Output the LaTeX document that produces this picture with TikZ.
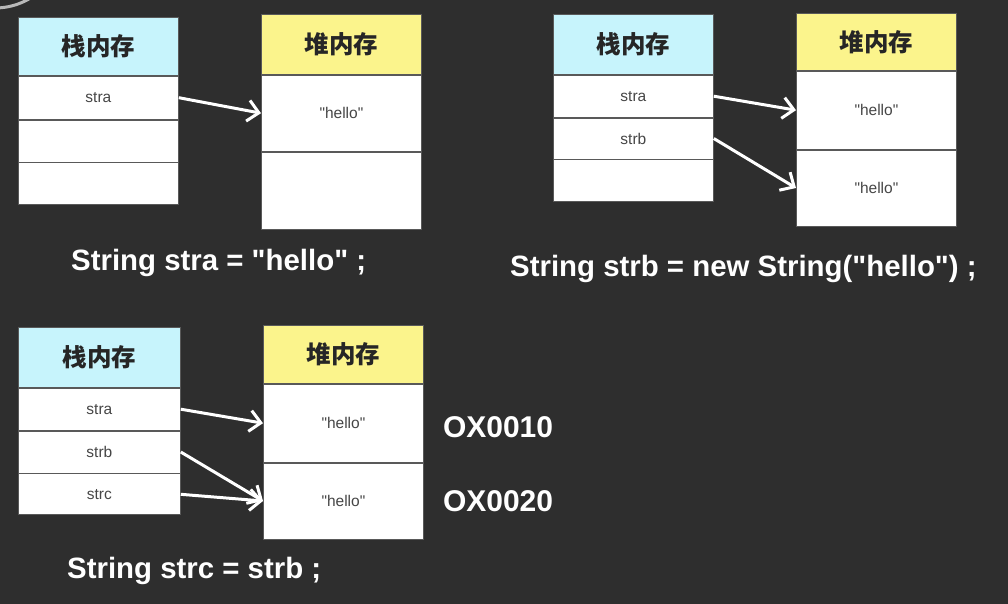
\documentclass[tikz,border=0pt]{standalone}
\usepackage{fontspec}
\setmainfont{Liberation Sans}[Ligatures=TeXOff]
\newfontfamily\cjk{Noto Sans CJK SC}
\usepackage{tikz}
\usetikzlibrary{positioning,arrows.meta}

\definecolor{bgdark}{RGB}{46,46,46}
\definecolor{stackcyan}{RGB}{199,244,252}
\definecolor{heapyellow}{RGB}{251,244,140}
\definecolor{celltext}{RGB}{70,70,70}

\begin{document}
\begin{tikzpicture}[x=1pt,y=-1pt,
	cell/.style={draw=gray!70!black, fill=white, line width=0.8pt, minimum width=160pt, minimum height=#1, inner sep=0pt, text=celltext, font=\fontsize{15.5}{16}\selectfont},
	stackhd/.style={cell=#1, fill=stackcyan, text=black!85, font=\cjk\bfseries\fontsize{24.5}{25}\selectfont, anchor=north west},
	heaphd/.style={cell=#1, fill=heapyellow, text=black!85, font=\cjk\bfseries\fontsize{24.5}{25}\selectfont, anchor=north west},
	ptr/.style={draw=white, line width=3pt, -{Straight Barb[length=11pt,width=21pt]}},
	code/.style={text=white, font=\bfseries\fontsize{29.4}{32}\selectfont, anchor=base west, inner sep=0pt},
	addr/.style={text=white, font=\bfseries\fontsize{30}{32}\selectfont, anchor=west, inner sep=0pt}]
\fill[bgdark] (0,0) rectangle (1008,604);
\useasboundingbox (0,0) rectangle (1008,604);
\begin{scope}
\clip (0,0) rectangle (1008,604);
\draw[gray!55, line width=3pt] (-5,-60) circle (68);
\end{scope}

% String stra = "hello"
\node[stackhd=58pt] (sa) at (18,17) {栈内存};
\node[cell=43pt, below=0pt of sa] (sa1) {stra};
\node[cell=42pt, below=0pt of sa1] (sa2) {};
\node[cell=42pt, below=0pt of sa2] (sa3) {};
\node[heaphd=60pt] (ha) at (261,14) {堆内存};
\node[cell=76pt, below=0pt of ha] (ha1) {"hello"};
\node[cell=77pt, below=0pt of ha1] (ha2) {};
\draw[ptr] (sa1.east) -- (ha1.west);
\node[code] (ca) at (71,270) {String stra = "hello" ;};

% String strb = new String("hello")
\node[stackhd=60pt] (sb) at (553,14) {栈内存};
\node[cell=42pt, below=0pt of sb] (sb1) {stra};
\node[cell=41pt, below=0pt of sb1] (sb2) {strb};
\node[cell=42pt, below=0pt of sb2] (sb3) {};
\node[heaphd=57pt] (hb) at (796,13) {堆内存};
\node[cell=78pt, below=0pt of hb] (hb1) {"hello"};
\node[cell=76pt, below=0pt of hb1] (hb2) {"hello"};
\draw[ptr] (sb1.east) -- (hb1.west);
\draw[ptr] (sb2.east) -- (hb2.west);
\node[code] (cb) at (510,276) {String strb = new String("hello") ;};

% String strc = strb
\node[stackhd=60pt, minimum width=162pt] (sc) at (18,327) {栈内存};
\node[cell=42pt, minimum width=162pt, below=0pt of sc] (sc1) {stra};
\node[cell=42pt, minimum width=162pt, below=0pt of sc1] (sc2) {strb};
\node[cell=41pt, minimum width=162pt, below=0pt of sc2] (sc3) {strc};
\node[heaphd=58pt] (hc) at (263,325) {堆内存};
\node[cell=78pt, below=0pt of hc] (hc1) {"hello"};
\node[cell=76pt, below=0pt of hc1] (hc2) {"hello"};
\draw[ptr] (sc1.east) -- (hc1.west);
\draw[ptr] (sc2.east) -- (hc2.west);
\draw[ptr] (sc3.east) -- (hc2.west);
\node[addr, right=19pt of hc1, yshift=-4pt] (ad1) {OX0010};
\node[addr, right=19pt of hc2] (ad2) {OX0020};
\node[code] (cc) at (67,578) {String strc = strb ;};
\end{tikzpicture}
\end{document}
